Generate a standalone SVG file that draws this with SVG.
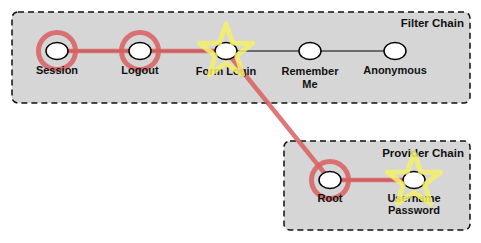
<svg xmlns="http://www.w3.org/2000/svg" width="481" height="243" viewBox="0 0 481 243">
<style>
.chain{fill:#d6d6d6;stroke:#111;stroke-width:1.5;stroke-dasharray:6,4}
.n{fill:#fff;stroke:#000;stroke-width:1.5}
.t{font-family:"Liberation Sans",Arial,sans-serif;font-size:11px;font-weight:bold;fill:#111;text-anchor:middle}
.ct{font-family:"Liberation Sans",Arial,sans-serif;font-size:11.5px;font-weight:bold;fill:#111;text-anchor:end}
.l{stroke:#000;stroke-width:1;fill:none}
.hl{stroke:#d95f60;stroke-opacity:0.85;stroke-width:4.5;fill:none}
.ring{stroke:#d95f60;stroke-opacity:0.85;stroke-width:5;fill:none}
.star{stroke:#f5f06a;stroke-opacity:0.85;stroke-width:5;fill:none;stroke-linejoin:round}
</style>
<defs>
<polygon id="starShape" points="0,-28 6.6,-9.1 26.6,-8.7 10.7,3.5 16.5,22.7 0,11.3 -16.5,22.7 -10.7,3.5 -26.6,-8.7 -6.6,-9.1"/>
</defs>
<g id="filter-chain">
<rect class="chain" x="12" y="12" width="458" height="91" rx="6"/>
<text class="ct" x="464" y="27">Filter Chain</text>
</g>
<g id="provider-chain">
<rect class="chain" x="284" y="141" width="186" height="89" rx="6"/>
<text class="ct" x="464" y="157">Provider Chain</text>
</g>
<g id="connectors">
<line class="l" x1="57" y1="51" x2="395" y2="51"/>
<line class="l" x1="330" y1="180" x2="414" y2="180"/>
<polyline class="hl" points="57,51 226,51 330,180 414,180"/>
</g>
<g id="session">
<ellipse class="n" cx="57" cy="51" rx="11" ry="8.5"/>
<circle class="ring" cx="57" cy="51" r="18.5"/>
<text class="t" x="57" y="74">Session</text>
</g>
<g id="logout">
<ellipse class="n" cx="140" cy="51" rx="11" ry="8.5"/>
<circle class="ring" cx="140" cy="51" r="18.5"/>
<text class="t" x="140" y="74">Logout</text>
</g>
<g id="form-login">
<ellipse class="n" cx="226" cy="51" rx="11" ry="8.5"/>
<text class="t" x="226" y="75">Form Login</text>
<use href="#starShape" class="star" x="226" y="52"/>
</g>
<g id="remember-me">
<ellipse class="n" cx="310" cy="51" rx="11" ry="8.5"/>
<text class="t" x="310" y="75">Remember</text>
<text class="t" x="310" y="88">Me</text>
</g>
<g id="anonymous">
<ellipse class="n" cx="395" cy="51" rx="11" ry="8.5"/>
<text class="t" x="395" y="74">Anonymous</text>
</g>
<g id="root">
<ellipse class="n" cx="330" cy="180" rx="11" ry="8.5"/>
<circle class="ring" cx="330" cy="180" r="18.5"/>
<text class="t" x="330" y="202">Root</text>
</g>
<g id="username-password">
<ellipse class="n" cx="414" cy="180" rx="11" ry="8.5"/>
<text class="t" x="414" y="202">Username</text>
<text class="t" x="414" y="214">Password</text>
<use href="#starShape" class="star" x="414" y="181"/>
</g>
</svg>
